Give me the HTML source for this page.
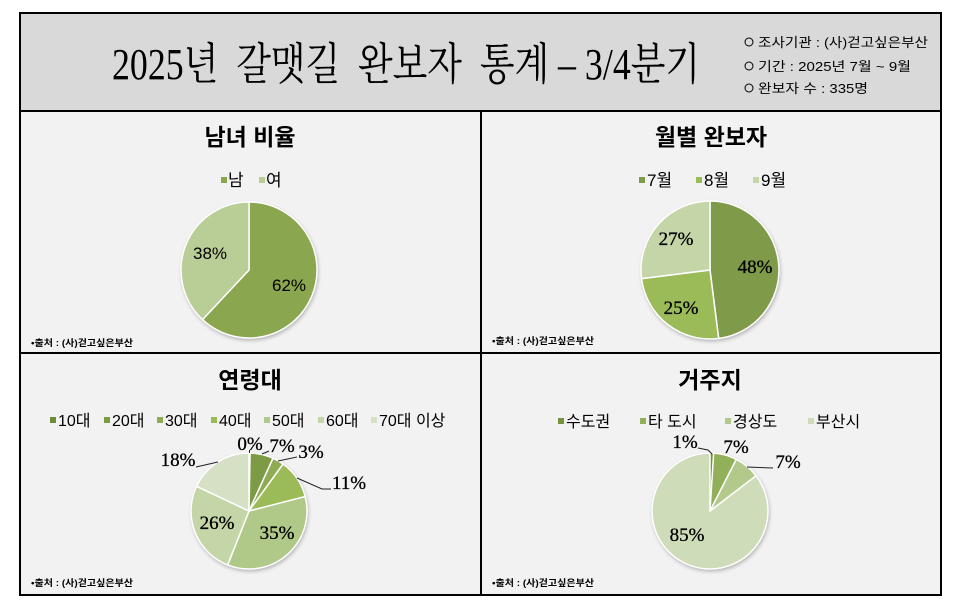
<!DOCTYPE html>
<html>
<head>
<meta charset="utf-8">
<style>
html,body{margin:0;padding:0;background:#ffffff;}
svg{display:block;}
.kr{font-family:"Liberation Sans","Noto Sans CJK KR","Noto Sans CJK SC",sans-serif;}
.sr{font-family:"Liberation Serif","Noto Serif CJK SC",serif;}
</style>
</head>
<body>
<svg width="960" height="600" viewBox="0 0 960 600" xmlns="http://www.w3.org/2000/svg">
  <defs>
    <filter id="sh" x="-20%" y="-20%" width="140%" height="140%">
      <feGaussianBlur stdDeviation="2"/>
    </filter>
  </defs>
  <rect x="0" y="0" width="960" height="600" fill="#ffffff"/>
  <rect x="20" y="13" width="921" height="98" fill="#d9d9d9"/>
  <rect x="20" y="111" width="921" height="484" fill="#f2f2f2"/>
  <rect x="20" y="13" width="921" height="582" fill="none" stroke="#000" stroke-width="2"/>
  <line x1="20" y1="111" x2="941" y2="111" stroke="#000" stroke-width="2"/>
  <line x1="481" y1="111" x2="481" y2="595" stroke="#000" stroke-width="2"/>
  <line x1="20" y1="353" x2="941" y2="353" stroke="#000" stroke-width="2"/>

  <!-- main title -->
  <text class="sr" x="112" y="79" font-size="44" fill="#000" xml:space="preserve" style="white-space:pre" textLength="588" lengthAdjust="spacingAndGlyphs">2025년  갈맷길  완보자  통계 – 3/4분기</text>

  <!-- info -->
  <circle cx="749" cy="42" r="4" fill="none" stroke="#000" stroke-width="1"/>
  <circle cx="749" cy="66" r="4" fill="none" stroke="#000" stroke-width="1"/>
  <circle cx="749" cy="88" r="4" fill="none" stroke="#000" stroke-width="1"/>
  <text class="kr" x="758" y="47" font-size="13" fill="#000" textLength="170" lengthAdjust="spacingAndGlyphs">조사기관 : (사)걷고싶은부산</text>
  <text class="kr" x="758" y="71" font-size="13" fill="#000" textLength="153" lengthAdjust="spacingAndGlyphs">기간 : 2025년 7월 ~ 9월</text>
  <text class="kr" x="758" y="93" font-size="13" fill="#000" textLength="110" lengthAdjust="spacingAndGlyphs">완보자 수 : 335명</text>

  <!-- ===== Panel 1 ===== -->
  <text class="kr" x="250" y="145" font-size="23" font-weight="bold" text-anchor="middle" fill="#000">남녀 비율</text>
  <rect x="221" y="177" width="6" height="6" fill="#8aa64e"/>
  <text class="kr" x="228" y="186" font-size="17" fill="#000">남</text>
  <rect x="259" y="177" width="6" height="6" fill="#b9cd96"/>
  <text class="kr" x="266" y="186" font-size="17" fill="#000">여</text>
  <circle cx="250" cy="272" r="68" fill="#000" opacity="0.3" filter="url(#sh)"/>
  <path d="M249,270 L249,202 A68,68 0 1,1 202.5,319.6 Z" fill="#8aa64e" stroke="#fff" stroke-width="1.5"/>
  <path d="M249,270 L202.5,319.6 A68,68 0 0,1 249,202 Z" fill="#b9cd96" stroke="#fff" stroke-width="1.5"/>
  <text class="kr" x="210" y="259" font-size="17" text-anchor="middle" fill="#000">38%</text>
  <text class="kr" x="289" y="291" font-size="17" text-anchor="middle" fill="#000">62%</text>
  <text class="kr" x="31" y="346" font-size="9" font-weight="bold" fill="#000" textLength="102" lengthAdjust="spacingAndGlyphs">•출처 : (사)걷고싶은부산</text>

  <!-- ===== Panel 2 ===== -->
  <text class="kr" x="711" y="145" font-size="23" font-weight="bold" text-anchor="middle" fill="#000">월별 완보자</text>
  <rect x="639" y="177" width="6" height="6" fill="#7f9a48"/>
  <text class="kr" x="647" y="186" font-size="17" fill="#000">7월</text>
  <rect x="696" y="177" width="6" height="6" fill="#9bbb59"/>
  <text class="kr" x="704" y="186" font-size="17" fill="#000">8월</text>
  <rect x="753" y="177" width="6" height="6" fill="#c4d5a8"/>
  <text class="kr" x="761" y="186" font-size="17" fill="#000">9월</text>
  <circle cx="711" cy="272" r="69" fill="#000" opacity="0.3" filter="url(#sh)"/>
  <path d="M710,270 L710,201 A69,69 0 0,1 718.65,338.45 Z" fill="#7f9a48" stroke="#fff" stroke-width="1.5"/>
  <path d="M710,270 L718.65,338.45 A69,69 0 0,1 641.55,278.65 Z" fill="#9bbb59" stroke="#fff" stroke-width="1.5"/>
  <path d="M710,270 L641.55,278.65 A69,69 0 0,1 710,201 Z" fill="#c4d5a8" stroke="#fff" stroke-width="1.5"/>
  <text class="sr" x="755" y="273" font-size="19" text-anchor="middle" fill="#000" stroke="#000" stroke-width="0.3">48%</text>
  <text class="sr" x="681" y="314" font-size="19" text-anchor="middle" fill="#000" stroke="#000" stroke-width="0.3">25%</text>
  <text class="sr" x="676" y="245" font-size="19" text-anchor="middle" fill="#000" stroke="#000" stroke-width="0.3">27%</text>
  <text class="kr" x="492" y="344" font-size="9" font-weight="bold" fill="#000" textLength="102" lengthAdjust="spacingAndGlyphs">•출처 : (사)걷고싶은부산</text>

  <!-- ===== Panel 3 ===== -->
  <text class="kr" x="250" y="388" font-size="23" font-weight="bold" text-anchor="middle" fill="#000">연령대</text>
  <rect x="50" y="417" width="6" height="6" fill="#6f8a3a"/>
  <text class="kr" x="58" y="426" font-size="16" fill="#000">10대</text>
  <rect x="104" y="417" width="6" height="6" fill="#7d9a44"/>
  <text class="kr" x="112" y="426" font-size="16" fill="#000">20대</text>
  <rect x="157" y="417" width="6" height="6" fill="#8fab53"/>
  <text class="kr" x="165" y="426" font-size="16" fill="#000">30대</text>
  <rect x="211" y="417" width="6" height="6" fill="#9bbb59"/>
  <text class="kr" x="219" y="426" font-size="16" fill="#000">40대</text>
  <rect x="264" y="417" width="6" height="6" fill="#b0c989"/>
  <text class="kr" x="272" y="426" font-size="16" fill="#000">50대</text>
  <rect x="318" y="417" width="6" height="6" fill="#c4d6a7"/>
  <text class="kr" x="326" y="426" font-size="16" fill="#000">60대</text>
  <rect x="371" y="417" width="6" height="6" fill="#d5e0c5"/>
  <text class="kr" x="379" y="426" font-size="16" fill="#000">70대 이상</text>
  <circle cx="250" cy="513" r="58" fill="#000" opacity="0.3" filter="url(#sh)"/>
  <path d="M249,511 L249,453 A58,58 0 0,1 250.09,453.01 Z" fill="#6f8a3a" stroke="#fff" stroke-width="0.5"/>
  <path d="M249,511 L250.09,453.01 A58,58 0 0,1 273.04,458.21 Z" fill="#7d9a44" stroke="#fff" stroke-width="1.5"/>
  <path d="M249,511 L273.04,458.21 A58,58 0 0,1 283.09,464.08 Z" fill="#8fab53" stroke="#fff" stroke-width="1.5"/>
  <path d="M249,511 L283.09,464.08 A58,58 0 0,1 305.18,496.58 Z" fill="#9bbb59" stroke="#fff" stroke-width="1.5"/>
  <path d="M249,511 L305.18,496.58 A58,58 0 0,1 227.65,564.93 Z" fill="#b0c989" stroke="#fff" stroke-width="1.5"/>
  <path d="M249,511 L227.65,564.93 A58,58 0 0,1 196.52,486.30 Z" fill="#c4d6a7" stroke="#fff" stroke-width="1.5"/>
  <path d="M249,511 L196.52,486.30 A58,58 0 0,1 249,453 Z" fill="#d5e0c5" stroke="#fff" stroke-width="1.5"/>
  <g stroke="#222" stroke-width="1" fill="none">
    <polyline points="196,467 218,462"/>
    <polyline points="297,478 322,489 331,489"/>
    <polyline points="278,461 297,457"/>
    <polyline points="262,454 269,451"/>
    <polyline points="249.5,453 249.5,450"/>
  </g>
  <g class="sr" font-size="19" text-anchor="middle" fill="#000" stroke="#000" stroke-width="0.3">
    <text x="250" y="450">0%</text>
    <text x="282" y="452">7%</text>
    <text x="311" y="458">3%</text>
    <text x="349" y="489">11%</text>
    <text x="277" y="539">35%</text>
    <text x="217" y="529">26%</text>
    <text x="178" y="466">18%</text>
  </g>
  <text class="kr" x="31" y="586" font-size="9" font-weight="bold" fill="#000" textLength="102" lengthAdjust="spacingAndGlyphs">•출처 : (사)걷고싶은부산</text>

  <!-- ===== Panel 4 ===== -->
  <text class="kr" x="710" y="388" font-size="23" font-weight="bold" text-anchor="middle" fill="#000">거주지</text>
  <rect x="558" y="418" width="6" height="6" fill="#76923c"/>
  <text class="kr" x="566" y="427" font-size="16" fill="#000">수도권</text>
  <rect x="640" y="418" width="6" height="6" fill="#92b05a"/>
  <text class="kr" x="648" y="427" font-size="16" fill="#000">타 도시</text>
  <rect x="725" y="418" width="6" height="6" fill="#b3c98c"/>
  <text class="kr" x="733" y="427" font-size="16" fill="#000">경상도</text>
  <rect x="808" y="418" width="6" height="6" fill="#cfdcba"/>
  <text class="kr" x="816" y="427" font-size="16" fill="#000">부산시</text>
  <circle cx="711" cy="513" r="58" fill="#000" opacity="0.3" filter="url(#sh)"/>
  <path d="M710,511 L710,453 A58,58 0 0,1 713.64,453.12 Z" fill="#76923c" stroke="#fff" stroke-width="1"/>
  <path d="M710,511 L713.64,453.12 A58,58 0 0,1 736.33,459.32 Z" fill="#92b05a" stroke="#fff" stroke-width="1.5"/>
  <path d="M710,511 L736.33,459.32 A58,58 0 0,1 756.05,475.74 Z" fill="#b3c98c" stroke="#fff" stroke-width="1.5"/>
  <path d="M710,511 L756.05,475.74 A58,58 0 1,1 710,453 Z" fill="#cfdcba" stroke="#fff" stroke-width="1.5"/>
  <g stroke="#222" stroke-width="1" fill="none">
    <polyline points="698,448 708,450 712,454"/>
    <polyline points="747,467 773,468"/>
  </g>
  <g class="sr" font-size="19" text-anchor="middle" fill="#000" stroke="#000" stroke-width="0.3">
    <text x="685" y="448">1%</text>
    <text x="736" y="453">7%</text>
    <text x="788" y="468">7%</text>
    <text x="687" y="541">85%</text>
  </g>
  <text class="kr" x="492" y="586" font-size="9" font-weight="bold" fill="#000" textLength="102" lengthAdjust="spacingAndGlyphs">•출처 : (사)걷고싶은부산</text>
</svg>
</body>
</html>
